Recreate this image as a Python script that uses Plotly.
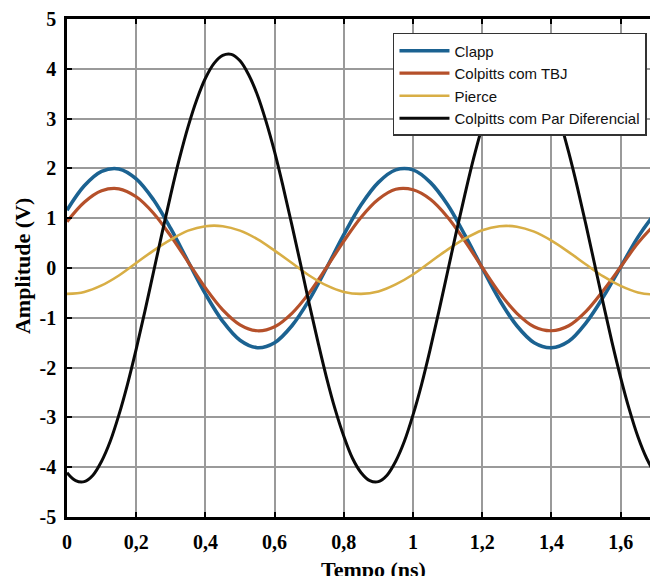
import plotly.graph_objects as go

# Time axis (ns)
tempo = [0.00, 0.05, 0.10, 0.15, 0.20, 0.25, 0.30, 0.35, 0.40, 0.45,
         0.50, 0.55, 0.60, 0.65, 0.70, 0.75, 0.80, 0.85, 0.90, 0.95,
         1.00, 1.05, 1.10, 1.15, 1.20, 1.25, 1.30, 1.35, 1.40, 1.45,
         1.50, 1.55, 1.60, 1.65, 1.70, 1.75]

clapp = [1.16, 1.65, 1.94, 1.99, 1.79, 1.37, 0.79, 0.13, -0.52, -1.07,
         -1.45, -1.60, -1.50, -1.16, -0.64, 0.00, 0.67, 1.27, 1.72, 1.97,
         1.97, 1.72, 1.27, 0.66, 0.00, -0.64, -1.16, -1.50, -1.60, -1.47,
         -1.10, -0.58, 0.02, 0.62, 1.10, 1.50]

colpitts_tbj = [0.93, 1.32, 1.55, 1.59, 1.43, 1.10, 0.64, 0.12, -0.40, -0.84,
                -1.14, -1.26, -1.18, -0.91, -0.50, 0.01, 0.54, 1.02, 1.38, 1.58,
                1.57, 1.38, 1.02, 0.54, 0.01, -0.50, -0.91, -1.18, -1.26, -1.16,
                -0.87, -0.45, 0.02, 0.50, 0.88, 1.18]

pierce = [-0.52, -0.48, -0.35, -0.15, 0.10, 0.35, 0.57, 0.75, 0.84, 0.84,
          0.75, 0.58, 0.35, 0.10, -0.15, -0.35, -0.48, -0.52, -0.47, -0.33,
          -0.13, 0.12, 0.37, 0.59, 0.76, 0.84, 0.83, 0.73, 0.55, 0.32,
          0.07, -0.17, -0.36, -0.49, -0.53, -0.47]

# Differential Colpitts sampled more finely (large swing)
tempo_fino = [0.000, 0.025, 0.050, 0.075, 0.100, 0.125, 0.150, 0.175, 0.200, 0.225,
              0.250, 0.275, 0.300, 0.325, 0.350, 0.375, 0.400, 0.425, 0.450, 0.475,
              0.500, 0.525, 0.550, 0.575, 0.600, 0.625, 0.650, 0.675, 0.700, 0.725,
              0.750, 0.775, 0.800, 0.825, 0.850, 0.875, 0.900, 0.925, 0.950, 0.975,
              1.000, 1.025, 1.050, 1.075, 1.100, 1.125, 1.150, 1.175, 1.200, 1.225,
              1.250, 1.275, 1.300, 1.325, 1.350, 1.375, 1.400, 1.425, 1.450, 1.475,
              1.500, 1.525, 1.550, 1.575, 1.600, 1.625, 1.650, 1.675, 1.700, 1.725,
              1.750]

colpitts_par_dif = [-4.11, -4.27, -4.29, -4.16, -3.88, -3.48, -2.95, -2.33, -1.63, -0.87,
                    -0.08, 0.71, 1.48, 2.20, 2.84, 3.38, 3.81, 4.11, 4.27, 4.29,
                    4.16, 3.88, 3.48, 2.95, 2.33, 1.62, 0.86, 0.08, -0.72, -1.48,
                    -2.20, -2.84, -3.38, -3.82, -4.11, -4.27, -4.29, -4.16, -3.88, -3.48,
                    -2.95, -2.33, -1.62, -0.86, -0.07, 0.72, 1.48, 2.20, 2.84, 3.39,
                    3.82, 4.12, 4.27, 4.29, 4.16, 3.88, 3.47, 2.95, 2.32, 1.62,
                    0.86, 0.07, -0.72, -1.49, -2.20, -2.84, -3.39, -3.82, -4.12, -4.27,
                    -4.29]

series_names = ["Clapp", "Colpitts com TBJ", "Pierce", "Colpitts com Par Diferencial"]

x_tickvals = [0, 0.2, 0.4, 0.6, 0.8, 1.0, 1.2, 1.4, 1.6]
x_ticktext = ["0", "0,2", "0,4", "0,6", "0,8", "1", "1,2", "1,4", "1,6"]
y_tickvals = [-5, -4, -3, -2, -1, 0, 1, 2, 3, 4, 5]
y_ticktext = ["-5", "-4", "-3", "-2", "-1", "0", "1", "2", "3", "4", "5"]

colors = ["#1b6291", "#b5502a", "#d8ae45", "#0a0a0a"]
widths = [3.6, 3.2, 2.6, 3.0]
xs = [tempo, tempo, tempo, tempo_fino]
ys_all = [clapp, colpitts_tbj, pierce, colpitts_par_dif]

fig = go.Figure()
for name, xv, yv, c, w in zip(series_names, xs, ys_all, colors, widths):
    fig.add_trace(go.Scatter(x=xv, y=yv, mode="lines", name=name,
                             line=dict(color=c, width=w, shape="spline", smoothing=1.0)))

serif = "Liberation Serif"
fig.update_layout(
    width=658, height=576,
    margin=dict(l=59, r=0, t=11, b=67),
    paper_bgcolor="white", plot_bgcolor="white",
    showlegend=True,
    legend=dict(x=0.5442, y=0.972, xanchor="left", yanchor="top",
                bgcolor="white", bordercolor="#333333", borderwidth=1.5,
                font=dict(family="Liberation Sans", size=15, color="#111111"),
                tracegroupgap=0, itemwidth=50),
    xaxis=dict(range=[0, 1.7311], tickvals=x_tickvals, ticktext=x_ticktext,
               showgrid=True, gridcolor="#9a9a9a", gridwidth=1.5,
               showline=True, linecolor="black", linewidth=2.5, mirror="ticks",
               ticks="inside", ticklen=5, tickwidth=2, tickcolor="black",
               zeroline=False,
               tickfont=dict(family=serif, size=20, color="black", weight="bold"),
               ticklabelstandoff=5),
    yaxis=dict(range=[-5, 5], tickvals=y_tickvals, ticktext=y_ticktext,
               showgrid=True, gridcolor="#9a9a9a", gridwidth=1.5,
               showline=True, linecolor="black", linewidth=2.5,
               ticks="inside", ticklen=5, tickwidth=2, tickcolor="black",
               zeroline=False,
               tickfont=dict(family=serif, size=20, color="black", weight="bold"),
               ticklabelstandoff=4),
    annotations=[
        dict(text="<b>Tempo (ns)</b>", xref="paper", yref="paper",
             x=0.511, y=-0.1064, xanchor="center", yanchor="middle",
             showarrow=False, font=dict(family=serif, size=22, color="black")),
        dict(text="<b>Amplitude (V)</b>", xref="paper", yref="paper",
             x=-0.0751, y=0.504, xanchor="center", yanchor="middle", textangle=-90,
             showarrow=False, font=dict(family=serif, size=22, color="black")),
    ],
)

fig.write_html("out.html")
